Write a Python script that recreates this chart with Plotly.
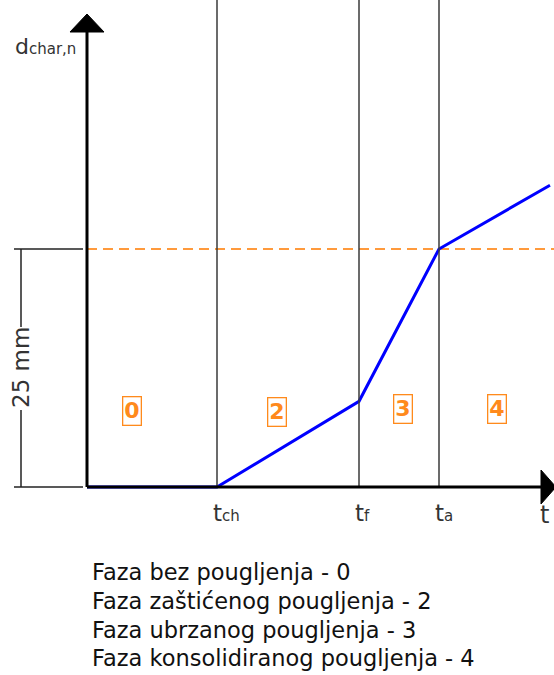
import plotly.graph_objects as go

# Char depth development over time (phases of charring)
t_points = [0.0, 13.0, 27.2, 35.2, 46.3]        # time (arbitrary units)
d_points = [0.0, 0.0, 9.0, 25.0, 31.7]          # char depth d_char,n (mm)
phase_times = [13.0, 27.2, 35.2]                 # t_ch, t_f, t_a
phase_time_subs = ["ch", "f", "a"]
d_ref = 25.0                                     # reference depth (mm)
phase_ids = ["0", "2", "3", "4"]
phase_label_t = [4.5, 19.0, 31.6, 41.0]
phase_label_d = [8.0, 7.9, 8.2, 8.2]
legend_lines = [
    "Faza bez pougljenja - 0",
    "Faza zaštićenog pougljenja - 2",
    "Faza ubrzanog pougljenja - 3",
    "Faza konsolidiranog pougljenja - 4",
]

W, H = 554, 675
X0_PX, Y0_PX = 87, 487
PX_T = 10.0
PX_MM = 238 / 25.0
X_RANGE = [-X0_PX / PX_T, (W - X0_PX) / PX_T]
Y_RANGE = [-(H - Y0_PX) / PX_MM, Y0_PX / PX_MM]


def tx(px):
    return (px - X0_PX) / PX_T


def dy(py):
    return (Y0_PX - py) / PX_MM


def small(s, size):
    return f"<span style='font-size:{size}px'>{s}</span>"


FONT = "DejaVu Sans"
TXT = "#333333"
ORANGE = "#ff8a1c"

fig = go.Figure()

# phase boundaries
for t in phase_times:
    fig.add_shape(type="line", x0=t, x1=t, y0=0, y1=Y_RANGE[1],
                  line=dict(color="#3a3a3a", width=1.5))

# reference depth line
fig.add_trace(go.Scatter(x=[0, X_RANGE[1]], y=[d_ref, d_ref], mode="lines",
                         line=dict(color="#ff9a3c", width=2, dash="10px,6px"),
                         hoverinfo="skip", showlegend=False))

# axes with arrowheads
fig.add_shape(type="line", x0=0, x1=tx(542), y0=0, y1=0,
              line=dict(color="black", width=3))
fig.add_shape(type="line", x0=0, x1=0, y0=0, y1=dy(32),
              line=dict(color="black", width=3))
fig.add_shape(type="path",
              path=f"M {tx(70)},{dy(32)} L {tx(104)},{dy(32)} L 0,{dy(14)} Z",
              fillcolor="black", line=dict(color="black", width=1))
fig.add_shape(type="path",
              path=f"M {tx(541)},{dy(470)} L {tx(541)},{dy(504)} L {tx(556)},0 Z",
              fillcolor="black", line=dict(color="black", width=1))

# char depth curve
fig.add_trace(go.Scatter(x=t_points, y=d_points, mode="lines",
                         line=dict(color="#0000ff", width=3),
                         hoverinfo="skip", showlegend=False))

# dimension for 25 mm
xd = tx(21)
for yv in (0, d_ref):
    fig.add_shape(type="line", x0=tx(14), x1=tx(83), y0=yv, y1=yv,
                  line=dict(color="#222222", width=1.5))
fig.add_shape(type="line", x0=xd, x1=xd, y0=0, y1=dy(410),
              line=dict(color="#222222", width=1.5))
fig.add_shape(type="line", x0=xd, x1=xd, y0=dy(327), y1=d_ref,
              line=dict(color="#222222", width=1.5))
fig.add_annotation(x=xd, y=dy(368), text="25 mm", showarrow=False, textangle=-90,
                   font=dict(family=FONT, size=23, color=TXT),
                   xanchor="center", yanchor="middle")

# phase numbers
for lbl, t, d in zip(phase_ids, phase_label_t, phase_label_d):
    fig.add_annotation(x=t, y=d, text=f"<b>{lbl}</b>", showarrow=False,
                       font=dict(family=FONT, size=22, color=ORANGE),
                       bordercolor=ORANGE, borderwidth=1.3, borderpad=1,
                       xanchor="center", yanchor="middle")

# time labels
for t, sub in zip(phase_times, phase_time_subs):
    fig.add_annotation(x=t, y=dy(513), text="t" + small(sub, 15), showarrow=False,
                       font=dict(family=FONT, size=23, color=TXT),
                       xanchor="left", xshift=-6, yanchor="middle")
fig.add_annotation(x=tx(544), y=dy(515), text="t", showarrow=False,
                   font=dict(family=FONT, size=24, color=TXT),
                   xanchor="center", yanchor="middle")
fig.add_annotation(x=tx(13), y=dy(46), text="d" + small("char,n", 15), showarrow=False,
                   font=dict(family=FONT, size=22, color=TXT),
                   xanchor="left", yanchor="middle")

# phase legend
for i, line in enumerate(legend_lines):
    fig.add_annotation(xref="paper", yref="paper", x=90 / W,
                       y=1 - (572 + 28.8 * i) / H, text=line, showarrow=False,
                       font=dict(family=FONT, size=22.5, color="#111111"),
                       xanchor="left", yanchor="middle")

fig.update_layout(
    width=W, height=H, margin=dict(l=0, r=0, t=0, b=0),
    paper_bgcolor="white", plot_bgcolor="white", showlegend=False,
    xaxis=dict(range=X_RANGE, visible=False, fixedrange=True),
    yaxis=dict(range=Y_RANGE, visible=False, fixedrange=True),
)

fig.write_html("out.html")
